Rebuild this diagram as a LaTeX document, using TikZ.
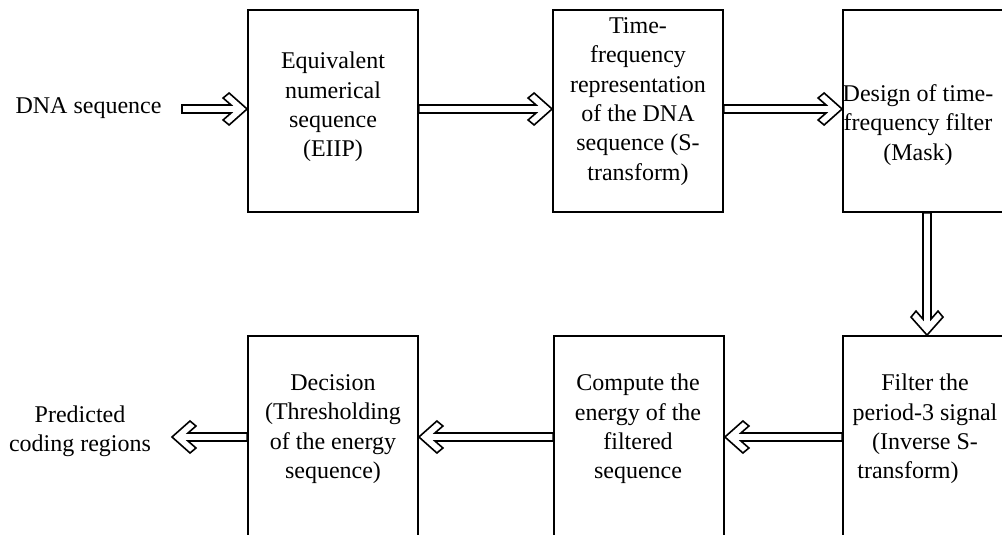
\documentclass[tikz,border=0pt]{standalone}
\usepackage{fontspec}
\setmainfont{Liberation Serif}
\usetikzlibrary{calc}
\tikzset{
  stagebox/.style={draw, line width=1.8pt, minimum width=170pt, minimum height=202pt, inner sep=0pt},
  stagetext/.style={align=center, inner sep=0pt, font=\fontsize{24}{29.4}\selectfont},
  hollowarrow/.style={draw, line width=1.6pt, line join=miter, to path={
    ($(\tikztostart)!4pt!-90:(\tikztotarget)$) --
    ($(\tikztotarget)!16.492pt!14.036:(\tikztostart)$) --
    ($(\tikztotarget)!26.401pt!24.624:(\tikztostart)$) --
    ($(\tikztotarget)!24.083pt!41.634:(\tikztostart)$) --
    (\tikztotarget) --
    ($(\tikztotarget)!24.083pt!-41.634:(\tikztostart)$) --
    ($(\tikztotarget)!26.401pt!-24.624:(\tikztostart)$) --
    ($(\tikztotarget)!16.492pt!-14.036:(\tikztostart)$) --
    ($(\tikztostart)!4pt!90:(\tikztotarget)$) -- cycle}}
}
\begin{document}
\begin{tikzpicture}[x=1pt,y=-1pt]
\useasboundingbox (0,0) rectangle (1002,535);
\clip (0,0) rectangle (1002,535);
% boxes
\node[stagebox] (b1) at (333,111) {};
\node[stagebox] (b2) at (638,111) {};
\node[stagebox] (b3) at (928,111) {};
\node[stagebox] (b4) at (333,437) {};
\node[stagebox] (b5) at (639,437) {};
\node[stagebox] (b6) at (928,437) {};
% texts
\node[stagetext] (t1) at (333,107) {Equivalent\\numerical\\sequence\\(EIIP)};
\node[stagetext] (t2) at (638,101.5) {Time-\\frequency\\representation\\of the DNA\\sequence (S-\\transform)};
\node[stagetext] (t3) at (918,125) {Design of time-\\frequency filter\\(Mask)};
\node[stagetext] (t4) at (333,429) {Decision\\(Thresholding\\of the energy\\sequence)};
\node[stagetext] (t5) at (638,429) {Compute the\\energy of the\\filtered\\sequence};
\node[stagetext] (t6) at (925,429) {Filter the\\period-3 signal\\(Inverse S-\hspace*{36pt}\\transform)\hspace*{34pt}};
\node[stagetext] (in) at (88.5,108) {DNA sequence};
\node[stagetext] (out) at (80,431) {Predicted\\coding regions};
% connector end points
\coordinate (inA) at (182,109);
\coordinate (outA) at (172,437);
% arrows
\draw[hollowarrow] (inA) to ([yshift=2pt]b1.west);
\draw[hollowarrow] ([yshift=2pt]b1.east) to ([yshift=2pt]b2.west);
\draw[hollowarrow] ([yshift=2pt]b2.east) to ([yshift=2pt]b3.west);
\draw[hollowarrow] ([xshift=-1pt]b3.south) to ([xshift=-1pt]b6.north);
\draw[hollowarrow] (b6.west) to (b5.east);
\draw[hollowarrow] (b5.west) to (b4.east);
\draw[hollowarrow] (b4.west) to (outA);
\end{tikzpicture}
\end{document}
